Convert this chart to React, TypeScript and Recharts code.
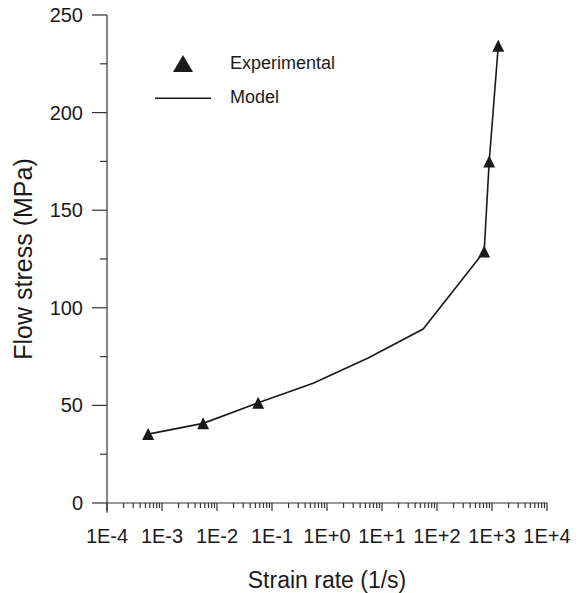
import React from "react";
import { ScatterChart, Scatter, XAxis, YAxis, ZAxis, Legend, ReferenceLine } from "recharts";

// Experimental flow stress measurements
const expRates = [5.6e-4, 5.6e-3, 5.6e-2, 720, 890, 1300];
const expStress = [35.3, 40.8, 51.3, 128.8, 175, 234.2];

// Model prediction
const modelRates = [5.6e-4, 5.6e-3, 5.6e-2, 0.56, 5.6, 56, 720, 890, 1300];
const modelStress = [35.3, 40.8, 51.3, 61.4, 74.3, 89.1, 128.8, 175, 234.2];

const decadeLabels = ["1E-4", "1E-3", "1E-2", "1E-1", "1E+0", "1E+1", "1E+2", "1E+3", "1E+4"];
const decadeExps = [-4, -3, -2, -1, 0, 1, 2, 3, 4];
const stressTicks = [0, 25, 50, 75, 100, 125, 150, 175, 200, 225, 250];
const stressLabels = ["0", "", "50", "", "100", "", "150", "", "200", "", "250"];

const FONT = "'Liberation Sans', Arial, Helvetica, sans-serif";
const INK = "#1a1a1a";
const AXIS = "#333";

const expData = expRates.map((x, i) => ({ x, y: expStress[i] }));
const modelData = modelRates.map((x, i) => ({ x, y: modelStress[i] }));

// decade ticks plus 2..9 minor ticks inside each decade
const xTicks: number[] = [];
decadeExps.forEach((e, i) => {
  xTicks.push(Math.pow(10, e));
  if (i < decadeExps.length - 1) {
    for (let m = 2; m <= 9; m++) xTicks.push(m * Math.pow(10, e));
  }
});

const XTick = (props: any) => {
  const { x, y, payload } = props;
  const lg = Math.log10(payload.value);
  const idx = decadeExps.indexOf(Math.round(lg));
  const major = Math.abs(lg - Math.round(lg)) < 1e-6 && idx >= 0;
  return (
    <g>
      <line x1={x} y1={y} x2={x} y2={y + (major ? 8 : 5)} stroke={AXIS} strokeWidth={1.2} />
      {major && (
        <text x={x} y={y + 40} textAnchor="middle" fontSize={20} fontFamily={FONT} fill={INK}>
          {decadeLabels[idx]}
        </text>
      )}
    </g>
  );
};

const YTick = (props: any) => {
  const { x, y, payload } = props;
  const idx = stressTicks.indexOf(payload.value);
  const label = stressLabels[idx];
  const major = label !== "";
  return (
    <g>
      <line x1={x - (major ? 15 : 7)} y1={y} x2={x} y2={y} stroke={AXIS} strokeWidth={1.2} />
      {major && (
        <text x={x - 24} y={y} dy="0.35em" textAnchor="end" fontSize={20} fontFamily={FONT} fill={INK}>
          {label}
        </text>
      )}
    </g>
  );
};

const XTitle = (props: any) => {
  const vb = props.viewBox;
  return (
    <text x={vb.x + vb.width / 2} y={580} textAnchor="middle" fontSize={23} fontFamily={FONT} fill={INK}>
      Strain rate (1/s)
    </text>
  );
};

const YTitle = (props: any) => {
  const vb = props.viewBox;
  const cy = vb.y + vb.height / 2;
  return (
    <text
      x={24}
      y={cy}
      transform={`rotate(-90 24 ${cy})`}
      textAnchor="middle"
      fontSize={25}
      fontFamily={FONT}
      fill={INK}
    >
      Flow stress (MPa)
    </text>
  );
};

const Triangle = (props: any) => {
  const { cx, cy } = props;
  return <polygon points={`${cx},${cy - 6} ${cx - 6},${cy + 6} ${cx + 6},${cy + 6}`} fill={INK} />;
};

const LegendBox = () => (
  <svg width={230} height={70} style={{ overflow: "visible" }}>
    <polygon points="35,7 25,24 45,24" fill={INK} />
    <text x={82} y={21} fontSize={18} fontFamily={FONT} fill={INK}>
      Experimental
    </text>
    <line x1={7} y1={50.3} x2={63} y2={50.3} stroke={INK} strokeWidth={1.5} />
    <text x={82} y={55} fontSize={18} fontFamily={FONT} fill={INK}>
      Model
    </text>
  </svg>
);

export default function App() {
  return (
    <div>
      {/* the top tick label sits right at the chart's upper edge */}
      <style>{`.recharts-surface { overflow: visible; }`}</style>
      <ScatterChart width={572} height={585} margin={{ top: 7, right: 33, left: 0, bottom: 0 }}>
        <XAxis
          dataKey="x"
          type="number"
          scale="log"
          domain={[1e-4, 1e4]}
          ticks={xTicks}
          interval={0}
          allowDataOverflow
          height={90}
          stroke={AXIS}
          strokeWidth={1.2}
          tickLine={false}
          tickSize={0}
          tickMargin={0}
          tick={<XTick />}
          label={{ content: <XTitle /> }}
        />
        <YAxis
          dataKey="y"
          type="number"
          domain={[0, 250]}
          ticks={stressTicks}
          interval={0}
          width={99}
          stroke={AXIS}
          strokeWidth={1.2}
          tickLine={false}
          tickSize={0}
          tickMargin={0}
          tick={<YTick />}
          label={{ content: <YTitle /> }}
        />
        <ZAxis type="number" range={[80, 80]} />
        <ReferenceLine
          segment={[{ x: 1e-4, y: 0 }, { x: 1e-4, y: -5 }]}
          stroke={AXIS}
          strokeWidth={1.2}
          ifOverflow="visible"
        />
        <Legend
          layout="horizontal"
          align="center"
          verticalAlign="middle"
          content={<LegendBox />}
          wrapperStyle={{ left: 140, top: 40, width: 230, height: 70 }}
        />
        <Scatter
          name="Model"
          data={modelData}
          line={{ stroke: INK, strokeWidth: 1.6 }}
          shape={() => <g />}
          isAnimationActive={false}
        />
        <Scatter name="Experimental" data={expData} fill={INK} shape={<Triangle />} isAnimationActive={false} />
      </ScatterChart>
    </div>
  );
}
